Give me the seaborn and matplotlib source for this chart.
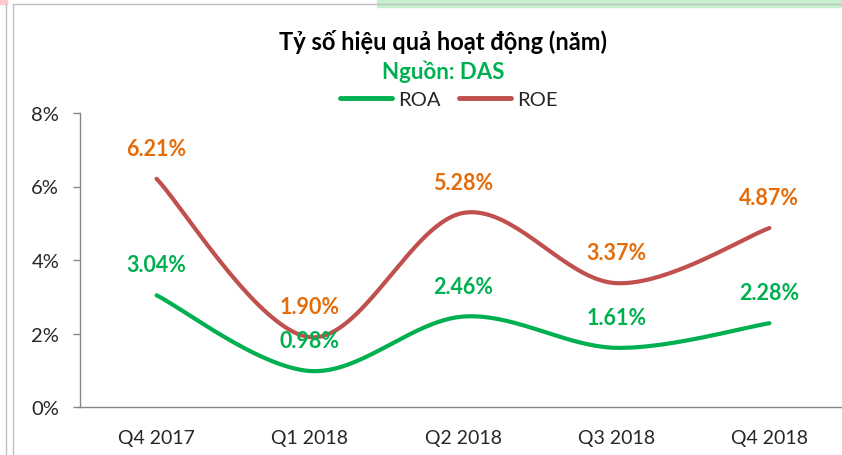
import numpy as np
import pandas as pd
import matplotlib.pyplot as plt
import matplotlib.patches as mpatches
import seaborn as sns

# values (%)
quarters = ['Q4 2017', 'Q1 2018', 'Q2 2018', 'Q3 2018', 'Q4 2018']
roa = [3.04, 0.98, 2.46, 1.61, 2.28]
roe = [6.21, 1.90, 5.28, 3.37, 4.87]
y_ticks = [0, 2, 4, 6, 8]

green = '#00B050'
red = '#C0504D'
orange = '#E46C0A'
axis_grey = '#868686'


def smooth(xs, ys, n=40):
    # Excel style smoothed line: Bezier segments with Catmull-Rom control points
    p = np.column_stack([xs, ys]).astype(float)
    p = np.vstack([p[0], p, p[-1]])
    out = []
    for i in range(1, len(p) - 2):
        p0, p1, p2, p3 = p[i - 1], p[i], p[i + 1], p[i + 2]
        b1 = p1 + (p2 - p0) / 6
        b2 = p2 - (p3 - p1) / 6
        t = np.linspace(0, 1, n)[:, None]
        seg = ((1 - t) ** 3) * p1 + 3 * ((1 - t) ** 2) * t * b1 + 3 * (1 - t) * t ** 2 * b2 + t ** 3 * p2
        out.append(seg if i == 1 else seg[1:])
    return np.vstack(out)


sns.set_style('white')
plt.rcParams['font.family'] = ['Lato', 'DejaVu Sans']

fig = plt.figure(figsize=(8.42, 4.56), dpi=100)
W, H = 842, 456

# bits of the surrounding sheet caught in the screenshot
fig.patches.append(mpatches.Rectangle((377 / W, 1 - 8 / H), 465 / W, 8 / H,
                                      transform=fig.transFigure, color='#C6EFCE', zorder=0))
fig.patches.append(mpatches.Rectangle((0, 1 - 5 / H), 7 / W, 5 / H,
                                      transform=fig.transFigure, color='#FFC7CE', zorder=0))
fig.lines.append(plt.Line2D([13 / W, 1], [1 - 5 / H, 1 - 5 / H], transform=fig.transFigure,
                            color='#BFBFBF', lw=1))
for xl in (6, 13):
    fig.lines.append(plt.Line2D([xl / W, xl / W], [0, 1 - 5 / H], transform=fig.transFigure,
                                color='#BFBFBF', lw=1))

ax = fig.add_axes([80 / W, 1 - 408 / H, 766 / W, 294 / H])

xs = np.arange(len(quarters))
for name, vals, col in [('ROA', roa, green), ('ROE', roe, red)]:
    curve = smooth(xs, vals)
    df = pd.DataFrame({'x': curve[:, 0], 'y': curve[:, 1]})
    sns.lineplot(data=df, x='x', y='y', ax=ax, color=col, lw=3, sort=False,
                 solid_capstyle='round', label=name)

for i, v in enumerate(roe):
    ax.annotate(f'{v:.2f}%', (i, v), xytext=(0, 22), textcoords='offset points',
                ha='center', va='center', color=orange, fontsize=15.5, fontweight='bold')
for i, v in enumerate(roa):
    ax.annotate(f'{v:.2f}%', (i, v), xytext=(0, 22), textcoords='offset points',
                ha='center', va='center', color=green, fontsize=15.5, fontweight='bold')

ax.set_xlim(-0.5, len(quarters) - 0.5)
ax.set_ylim(0, 8)
ax.set_yticks(y_ticks)
ax.set_yticklabels([f'{t}%' for t in y_ticks], fontsize=14.5)
ax.set_xticks(xs)
ax.set_xticklabels(quarters, fontsize=14)
ax.set_xticks(np.arange(-0.5, len(quarters)), minor=True)
ax.tick_params(axis='x', which='major', length=0, pad=16)
ax.tick_params(axis='x', which='minor', length=5, color=axis_grey, width=1)
ax.tick_params(axis='y', length=5, color=axis_grey, width=1, pad=10, left=True)
ax.set_xlabel('')
ax.set_ylabel('')
sns.despine(ax=ax)
for s in ('left', 'bottom'):
    ax.spines[s].set_color(axis_grey)
    ax.spines[s].set_linewidth(1)

leg = ax.legend(loc='center', bbox_to_anchor=(449 / W, 1 - 100 / H), bbox_transform=fig.transFigure,
                ncol=2, frameon=False, fontsize=14.5, handlelength=2.6, columnspacing=0.9,
                handletextpad=0.3)
for line in leg.get_lines():
    line.set_linewidth(3.5)

fig.text(443 / W, 1 - 42 / H, 'Tỷ số hiệu quả hoạt động (năm)', ha='center', va='center',
         fontsize=17, fontweight='bold', color='black')
fig.text(443 / W, 1 - 72 / H, 'Nguồn: DAS', ha='center', va='center',
         fontsize=16, fontweight='bold', color=green)

fig.savefig('out.png', dpi=100)
